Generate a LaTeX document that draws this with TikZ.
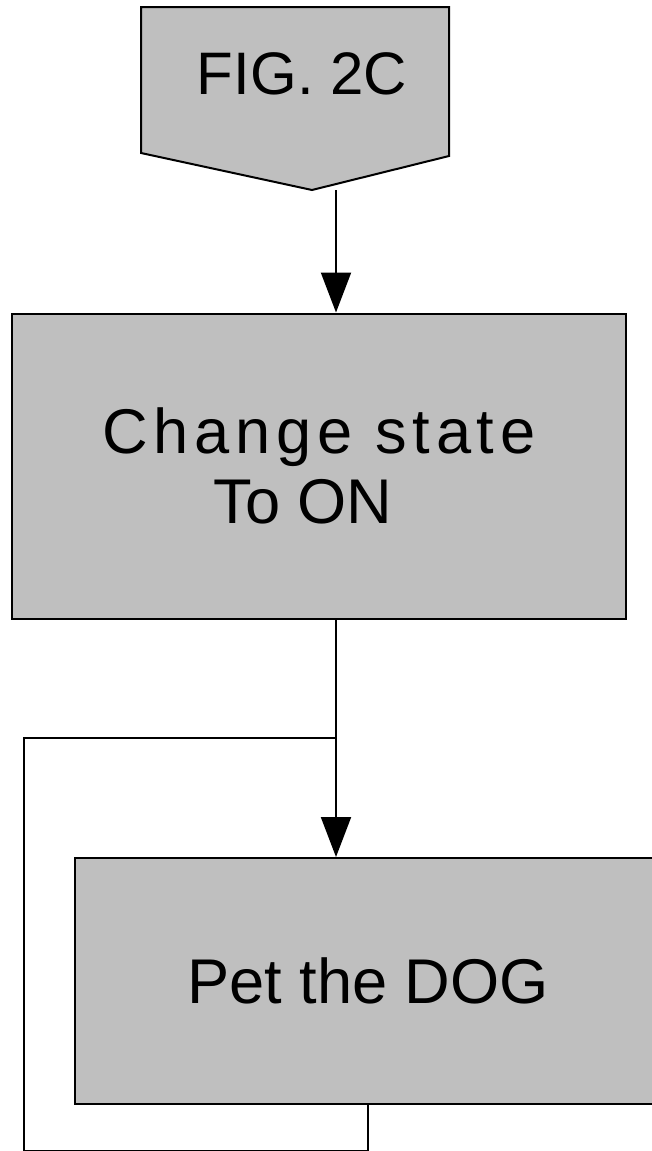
\documentclass[tikz,border=0pt]{standalone}
\usepackage{fontspec}
\setmainfont{Liberation Sans}
\usetikzlibrary{arrows.meta, positioning}
\tikzset{
  stepbox/.style={rectangle, draw=black, fill=black!25, line width=1pt,
                  inner sep=0pt, align=center,
                  font=\fontsize{31.6}{35}\selectfont},
  conn/.style={draw=black, fill=black!25, line width=1pt},
  flow/.style={line width=1pt, -{Triangle[length=20pt, width=15pt]}},
  ln/.style={line width=1pt},
}

\begin{document}
\begin{tikzpicture}[x=0.5pt, y=-0.5pt]
  \useasboundingbox (0,0) rectangle (652,1151);
  % off-page connector
  \filldraw[conn] (141,7) -- (449,7) -- (449,156) -- (312,190) -- (141,153) -- cycle;
  \node[font=\fontsize{30}{36}\selectfont] (fig) at (302,74) {FIG. 2C};
  \coordinate (figtip) at (336,190);
  % steps
  \node[stepbox, minimum width=307pt, minimum height=152.5pt] (chg) at (319,466)
    {{\addfontfeature{LetterSpace=9}Change state}\\To ON\hspace*{16pt}};
  \node[stepbox, minimum width=293pt, minimum height=123pt] (pet) at (368,981)
    {Pet the DOG};
  \coordinate (col) at (336,0);
  \coordinate (join) at (336,738);
  \coordinate (loopl) at (24,1151);
  % connectors
  \draw[flow] (figtip) -- (col |- chg.north);
  \draw[flow] (col |- chg.south) -- (col |- pet.north);
  \draw[ln] (pet.south) |- (loopl) |- (join);
\end{tikzpicture}
\end{document}
